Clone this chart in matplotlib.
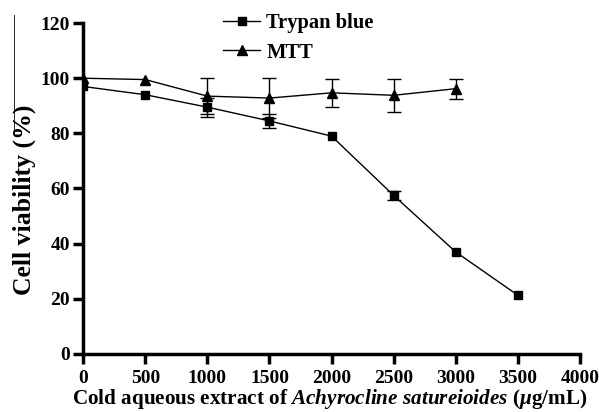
import matplotlib
matplotlib.use("Agg")
from matplotlib import pyplot as plt
from matplotlib.lines import Line2D

# concentrations (ug/mL)
conc_trypan = [0, 500, 1000, 1500, 2000, 2500, 3000, 3500]
trypan = [97, 94, 89.5, 84.5, 79, 57.5, 37, 21.3]
trypan_err = [0, 0, 3.5, 2.5, 0, 1.5, 0, 0]

conc_mtt = [0, 500, 1000, 1500, 2000, 2500, 3000]
mtt = [100, 99.5, 93.5, 92.8, 94.7, 93.8, 96.2]
mtt_err = [0, 0, 6.5, 7.2, 5, 6, 3.6]

xticks = [0, 500, 1000, 1500, 2000, 2500, 3000, 3500, 4000]
yticks = [0, 20, 40, 60, 80, 100, 120]

plt.rcParams['font.family'] = ['Liberation Serif', 'DejaVu Serif']
plt.rcParams['font.weight'] = 'bold'
plt.rcParams['mathtext.fontset'] = 'custom'
plt.rcParams['mathtext.rm'] = 'Liberation Serif:bold'
plt.rcParams['mathtext.it'] = 'Liberation Serif:italic:bold'
plt.rcParams['mathtext.bf'] = 'Liberation Serif:bold'


def draw_series(ax, x, y, err, marker, ms, label):
    ax.plot(x, y, color='black', lw=1, marker=marker, ms=ms, label=label)
    # error bars only where there is a visible error
    ex = [xi for xi, e in zip(x, err) if e > 0]
    ey = [yi for yi, e in zip(y, err) if e > 0]
    ee = [e for e in err if e > 0]
    ax.errorbar(ex, ey, yerr=ee, fmt='none', ecolor='black', elinewidth=1,
                capsize=5, capthick=1)


fig = plt.figure(figsize=(5.99, 4.12), dpi=100)
ax = fig.add_axes([0.139, 0.141, 0.829, 0.803])

draw_series(ax, conc_trypan, trypan, trypan_err, 's', 6, 'Trypan blue')
draw_series(ax, conc_mtt, mtt, mtt_err, '^', 7, 'MTT')

ax.set_xlim(0, 4000)
ax.set_ylim(0, 120)
ax.set_xticks(xticks)
ax.set_yticks(yticks)
for side in ['top', 'right']:
    ax.spines[side].set_visible(False)
for side in ['left', 'bottom']:
    ax.spines[side].set_linewidth(2.5)
ax.tick_params(direction='out', width=2.5, length=7.5, labelsize=14)
ax.tick_params(axis='x', pad=4)
ax.tick_params(axis='y', pad=2)
for lab in ax.get_xticklabels() + ax.get_yticklabels():
    lab.set_fontweight('bold')

ax.set_ylabel('Cell viability (%)', fontsize=18.5, fontweight='bold')
ax.yaxis.set_label_coords(-0.096, 0.465)
ax.set_xlabel(r'Cold aqueous extract of $\it{Achyrocline\ satureioides}$ ($\mu$g/mL)',
              fontsize=15.2, fontweight='bold')
ax.xaxis.set_label_coords(0.496, -0.1)

leg = ax.legend(loc='center left', bbox_to_anchor=(223 / 599, 1 - 38 / 412),
                bbox_transform=fig.transFigure, frameon=False,
                fontsize=14.8, handlelength=1.8, handletextpad=0.3,
                labelspacing=0.45, borderaxespad=0, borderpad=0)
for t in leg.get_texts():
    t.set_fontweight('bold')

# thin scan line at the left edge of the figure
fig.add_artist(Line2D([14 / 599, 14 / 599], [1 - 15 / 412, 1 - 135 / 412],
                      color='black', lw=0.6, transform=fig.transFigure))

fig.savefig('out.png', dpi=100)
